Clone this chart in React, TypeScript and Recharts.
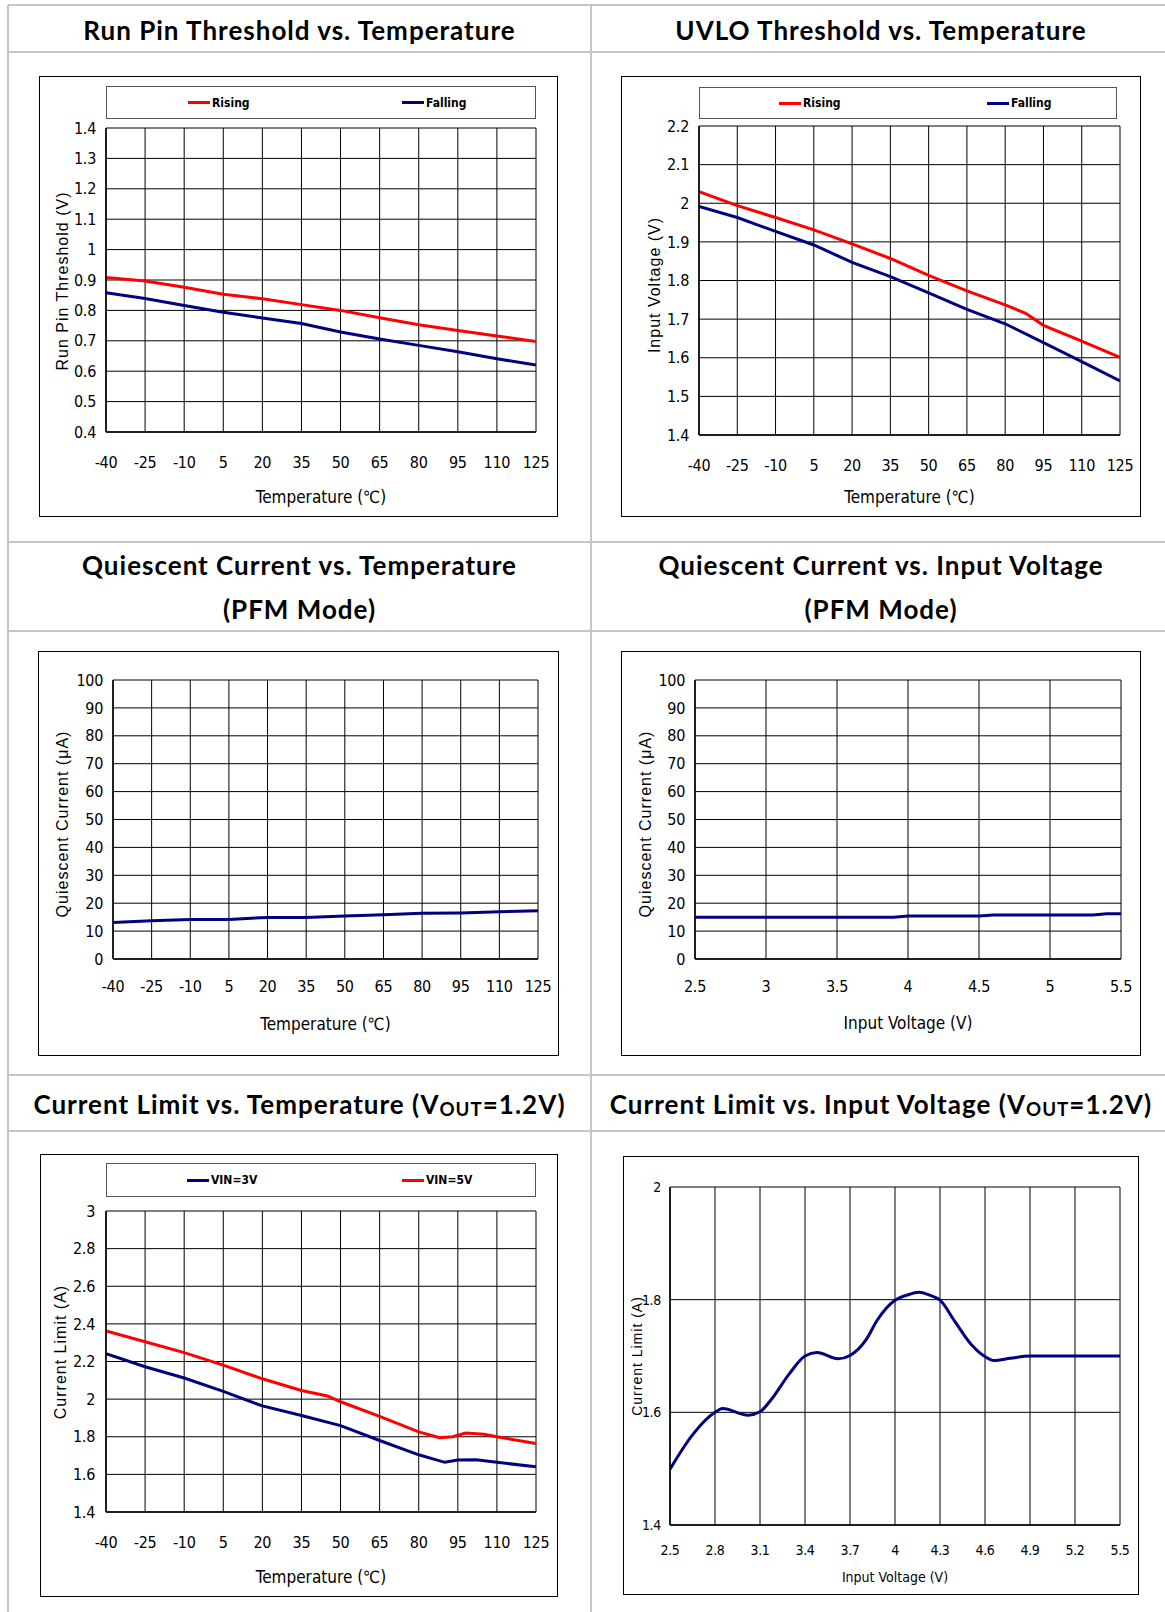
import React from "react";
import { LineChart, Line, XAxis, YAxis, CartesianGrid } from "recharts";

// ---- data ----
const tempTicks = [-40, -25, -10, 5, 20, 35, 50, 65, 80, 95, 110, 125];

const runPinTicks = [0.4, 0.5, 0.6, 0.7, 0.8, 0.9, 1, 1.1, 1.2, 1.3, 1.4];
const runPinRising = [0.908, 0.897, 0.876, 0.853, 0.838, 0.819, 0.8, 0.776, 0.753, 0.734, 0.716, 0.698];
const runPinFalling = [0.858, 0.839, 0.816, 0.794, 0.775, 0.757, 0.729, 0.706, 0.685, 0.664, 0.641, 0.62];

const uvloTicks = [1.4, 1.5, 1.6, 1.7, 1.8, 1.9, 2, 2.1, 2.2];
const uvloRisingTemp = [-40, -25, -10, 5, 20, 35, 50, 65, 80, 88, 95, 110, 125];
const uvloRising = [2.03, 1.994, 1.963, 1.931, 1.895, 1.857, 1.813, 1.773, 1.737, 1.715, 1.684, 1.643, 1.601];
const uvloFalling = [1.992, 1.963, 1.927, 1.892, 1.847, 1.81, 1.768, 1.725, 1.688, 1.639, 1.59, 1.54];

const iqTicks = [0, 10, 20, 30, 40, 50, 60, 70, 80, 90, 100];
const iqVsTemp = [13.1, 13.7, 14.2, 14.2, 14.9, 14.9, 15.4, 15.9, 16.4, 16.5, 16.9, 17.3];

const vinTicks = [2.5, 3, 3.5, 4, 4.5, 5, 5.5];
const iqVin = [2.5, 3, 3.5, 3.9, 4, 4.5, 4.6, 5, 5.3, 5.4, 5.5];
const iqVsVin = [15, 15, 15, 15, 15.4, 15.4, 15.8, 15.8, 15.8, 16.2, 16.2];

const ilimTicks = [1.4, 1.6, 1.8, 2, 2.2, 2.4, 2.6, 2.8, 3];
const ilim3vTemp = [-40, -25, -10, 5, 20, 35, 50, 65, 80, 90, 95, 102, 110, 125];
const ilim3v = [2.241, 2.172, 2.112, 2.041, 1.964, 1.913, 1.859, 1.78, 1.704, 1.664, 1.676, 1.678, 1.664, 1.64];
const ilim5vTemp = [-40, -25, -10, 5, 20, 35, 45, 50, 65, 80, 88, 93, 98, 105, 110, 125];
const ilim5v = [2.363, 2.305, 2.247, 2.181, 2.108, 2.046, 2.017, 1.986, 1.908, 1.826, 1.795, 1.8, 1.82, 1.813, 1.8, 1.764];

const ilimVinTicksX = [2.5, 2.8, 3.1, 3.4, 3.7, 4, 4.3, 4.6, 4.9, 5.2, 5.5];
const ilimVinTicksY = [1.4, 1.6, 1.8, 2];
const ilimVin = [2.5, 2.65, 2.8, 2.85, 3.02, 3.1, 3.17, 3.3, 3.4, 3.48, 3.62, 3.7, 3.81, 3.88, 4.0, 4.08, 4.16, 4.23, 4.3, 4.4, 4.51, 4.6, 4.66, 4.77, 4.9, 5.5];
const ilimVsVin = [1.499, 1.56, 1.6, 1.607, 1.595, 1.601, 1.621, 1.67, 1.7, 1.706, 1.695, 1.701, 1.73, 1.763, 1.799, 1.808, 1.813, 1.808, 1.799, 1.761, 1.72, 1.699, 1.692, 1.696, 1.7, 1.7];

const RED = "#ff0000";
const NAVY = "#000080";

const FONT_NARROW = "'Liberation Sans Narrow', 'DejaVu Sans Condensed', 'Liberation Sans', sans-serif";
const FONT_LABEL = "'Liberation Sans', Arial, sans-serif";
const FONT_TITLE = "Lato, 'Open Sans', sans-serif";

const pts = (xs: number[], ys: number[]) => xs.map((x, i) => ({ x, y: ys[i] }));

interface Series {
    name: string;
    color: string;
    data: { x: number; y: number }[];
    curve?: "linear" | "monotone";
}

interface PanelProps {
    frame: [number, number, number, number];
    plot: [number, number, number, number];
    xDomain: [number, number];
    xTicks: number[];
    yDomain: [number, number];
    yTicks: number[];
    series: Series[];
    tickFont: number;
    xTickMargin: number;
    yTickMargin: number;
    xLabel: string;
    xLabelY: number;
    xLabelSize: number;
    yLabel: string;
    yLabelPos: [number, number];
    yLabelSize: number;
    legend?: { box: [number, number, number, number]; starts: number[] };
}

function Panel(p: PanelProps) {
    const [fx, fy, fw, fh] = p.frame;
    const [px1, py1, px2, py2] = p.plot;
    const tick = { fill: "#000", fontSize: p.tickFont, fontFamily: FONT_NARROW, letterSpacing: -0.3 };
    return (
        <>
            <div style={{ position: "absolute", left: fx, top: fy, width: fw, height: fh, border: "1.5px solid #000", boxSizing: "border-box" }} />
            <div style={{ position: "absolute", left: fx, top: fy }}>
                <LineChart width={fw} height={fh} margin={{ top: py1 - fy, right: fx + fw - px2, left: 0, bottom: 0 }}>
                    <CartesianGrid stroke="#000" strokeWidth={1} />
                    <XAxis
                        type="number"
                        dataKey="x"
                        domain={p.xDomain}
                        ticks={p.xTicks}
                        interval={0}
                        allowDataOverflow
                        height={fy + fh - py2}
                        tickLine={false}
                        tickSize={0}
                        tickMargin={p.xTickMargin}
                        axisLine={{ stroke: "#000", strokeWidth: 1.5 }}
                        tick={tick}
                    />
                    <YAxis
                        type="number"
                        domain={p.yDomain}
                        ticks={p.yTicks}
                        interval={0}
                        allowDataOverflow
                        width={px1 - fx}
                        tickLine={false}
                        tickSize={0}
                        tickMargin={p.yTickMargin}
                        axisLine={{ stroke: "#000", strokeWidth: 1.5 }}
                        tick={tick}
                    />
                    {p.series.map((s) => (
                        <Line
                            key={s.name}
                            data={s.data}
                            dataKey="y"
                            name={s.name}
                            type={s.curve || "linear"}
                            stroke={s.color}
                            strokeWidth={3}
                            dot={false}
                            isAnimationActive={false}
                        />
                    ))}
                </LineChart>
            </div>
            <div
                style={{
                    position: "absolute",
                    left: px1,
                    width: px2 - px1,
                    top: p.xLabelY,
                    transform: "translateY(-50%)",
                    textAlign: "center",
                    fontFamily: FONT_NARROW,
                    fontSize: p.xLabelSize,
                    whiteSpace: "nowrap",
                }}
            >
                {p.xLabel}
            </div>
            <div
                style={{
                    position: "absolute",
                    left: p.yLabelPos[0],
                    top: p.yLabelPos[1],
                    transform: "translate(-50%, -50%) rotate(-90deg)",
                    fontFamily: FONT_LABEL,
                    fontSize: p.yLabelSize,
                    letterSpacing: 1,
                    whiteSpace: "nowrap",
                }}
            >
                {p.yLabel}
            </div>
            {p.legend && (
                <div
                    style={{
                        position: "absolute",
                        left: p.legend.box[0],
                        top: p.legend.box[1],
                        width: p.legend.box[2] - p.legend.box[0],
                        height: p.legend.box[3] - p.legend.box[1],
                        border: "1px solid #555",
                        boxSizing: "border-box",
                    }}
                >
                    {p.series.map((s, i) => (
                        <div key={s.name} style={{ position: "absolute", left: p.legend!.starts[i] - p.legend!.box[0], top: 0, height: "100%", display: "flex", alignItems: "center" }}>
                            <div style={{ width: 22, height: 3, background: s.color }} />
                            <span style={{ marginLeft: 2, fontFamily: FONT_NARROW, fontWeight: 700, fontSize: 12 }}>{s.name}</span>
                        </div>
                    ))}
                </div>
            )}
        </>
    );
}

function Title({ top, left, width, lines }: { top: number; left: number; width: number; lines: React.ReactNode[] }) {
    return (
        <div
            style={{
                position: "absolute",
                left,
                width,
                top,
                textAlign: "center",
                fontFamily: FONT_TITLE,
                fontWeight: 700,
                fontSize: 26,
                letterSpacing: 1,
                lineHeight: "44px",
                whiteSpace: "nowrap",
            }}
        >
            {lines.map((l, i) => (
                <div key={i}>{l}</div>
            ))}
        </div>
    );
}

const Sub = () => <span style={{ fontSize: "0.72em", verticalAlign: "-0.12em" }}>OUT</span>;

export default function App() {
    const hLines = [5, 52, 542, 631, 1075, 1131];
    const vLines = [8, 591];
    const tempLabel = "Temperature (\u2103)";
    return (
        <div style={{ position: "absolute", left: 0, top: 0, width: 1165, height: 1612, overflow: "hidden", background: "#fff", color: "#000" }}>
            {hLines.map((y) => (
                <div key={"h" + y} style={{ position: "absolute", left: 8, top: y - 1, width: 1170, height: 2, background: "#c6c6c6" }} />
            ))}
            {vLines.map((x) => (
                <div key={"v" + x} style={{ position: "absolute", left: x - 1, top: 5, width: 2, height: 1620, background: "#c6c6c6" }} />
            ))}

            <Title top={8} left={8} width={583} lines={["Run Pin Threshold vs. Temperature"]} />
            <Title top={8} left={591} width={580} lines={["UVLO Threshold vs. Temperature"]} />
            <Title top={543} left={8} width={583} lines={["Quiescent Current vs. Temperature", "(PFM Mode)"]} />
            <Title top={543} left={591} width={580} lines={["Quiescent Current vs. Input Voltage", "(PFM Mode)"]} />
            <Title top={1082} left={8} width={583} lines={[<>Current Limit vs. Temperature (V<Sub />=1.2V)</>]} />
            <Title top={1082} left={591} width={580} lines={[<>Current Limit vs. Input Voltage (V<Sub />=1.2V)</>]} />

            <Panel
                frame={[39, 76, 519, 441]}
                plot={[106, 128, 536, 432]}
                xDomain={[-40, 125]}
                xTicks={tempTicks}
                yDomain={[0.4, 1.4]}
                yTicks={runPinTicks}
                series={[
                    { name: "Rising", color: RED, data: pts(tempTicks, runPinRising) },
                    { name: "Falling", color: NAVY, data: pts(tempTicks, runPinFalling) },
                ]}
                tickFont={16}
                xTickMargin={25}
                yTickMargin={10}
                xLabel={tempLabel}
                xLabelY={497}
                xLabelSize={17}
                yLabel="Run Pin Threshold (V)"
                yLabelPos={[63, 281]}
                yLabelSize={16}
                legend={{ box: [106, 86, 536, 119], starts: [187, 401] }}
            />
            <Panel
                frame={[621, 76, 520, 441]}
                plot={[699, 126, 1120, 435]}
                xDomain={[-40, 125]}
                xTicks={tempTicks}
                yDomain={[1.4, 2.2]}
                yTicks={uvloTicks}
                series={[
                    { name: "Rising", color: RED, data: pts(uvloRisingTemp, uvloRising) },
                    { name: "Falling", color: NAVY, data: pts(tempTicks, uvloFalling) },
                ]}
                tickFont={16}
                xTickMargin={25}
                yTickMargin={10}
                xLabel={tempLabel}
                xLabelY={497}
                xLabelSize={17}
                yLabel="Input Voltage (V)"
                yLabelPos={[655, 285]}
                yLabelSize={16}
                legend={{ box: [699, 87, 1117, 119], starts: [778, 986] }}
            />
            <Panel
                frame={[38, 651, 521, 405]}
                plot={[113, 680, 538, 959]}
                xDomain={[-40, 125]}
                xTicks={tempTicks}
                yDomain={[0, 100]}
                yTicks={iqTicks}
                series={[{ name: "Iq", color: NAVY, data: pts(tempTicks, iqVsTemp) }]}
                tickFont={16}
                xTickMargin={22}
                yTickMargin={10}
                xLabel={tempLabel}
                xLabelY={1024}
                xLabelSize={17}
                yLabel={"Quiescent Current (\u03bcA)"}
                yLabelPos={[63, 824]}
                yLabelSize={16}
            />
            <Panel
                frame={[621, 651, 520, 405]}
                plot={[695, 680, 1121, 959]}
                xDomain={[2.5, 5.5]}
                xTicks={vinTicks}
                yDomain={[0, 100]}
                yTicks={iqTicks}
                series={[{ name: "Iq", color: NAVY, data: pts(iqVin, iqVsVin) }]}
                tickFont={16}
                xTickMargin={22}
                yTickMargin={10}
                xLabel="Input Voltage (V)"
                xLabelY={1023}
                xLabelSize={17}
                yLabel={"Quiescent Current (\u03bcA)"}
                yLabelPos={[646, 824]}
                yLabelSize={16}
            />
            <Panel
                frame={[40, 1154, 518, 443]}
                plot={[106, 1211, 536, 1512]}
                xDomain={[-40, 125]}
                xTicks={tempTicks}
                yDomain={[1.4, 3]}
                yTicks={ilimTicks}
                series={[
                    { name: "VIN=3V", color: NAVY, data: pts(ilim3vTemp, ilim3v) },
                    { name: "VIN=5V", color: RED, data: pts(ilim5vTemp, ilim5v) },
                ]}
                tickFont={16}
                xTickMargin={25}
                yTickMargin={11}
                xLabel={tempLabel}
                xLabelY={1577}
                xLabelSize={17}
                yLabel="Current Limit (A)"
                yLabelPos={[61, 1352]}
                yLabelSize={16}
                legend={{ box: [106, 1163, 536, 1197], starts: [186, 401] }}
            />
            <Panel
                frame={[623, 1156, 516, 439]}
                plot={[670, 1187, 1120, 1525]}
                xDomain={[2.5, 5.5]}
                xTicks={ilimVinTicksX}
                yDomain={[1.4, 2]}
                yTicks={ilimVinTicksY}
                series={[{ name: "Ilim", color: NAVY, data: pts(ilimVin, ilimVsVin), curve: "monotone" }]}
                tickFont={14}
                xTickMargin={20}
                yTickMargin={9}
                xLabel="Input Voltage (V)"
                xLabelY={1577}
                xLabelSize={14}
                yLabel="Current Limit (A)"
                yLabelPos={[637, 1356]}
                yLabelSize={14}
            />
        </div>
    );
}
